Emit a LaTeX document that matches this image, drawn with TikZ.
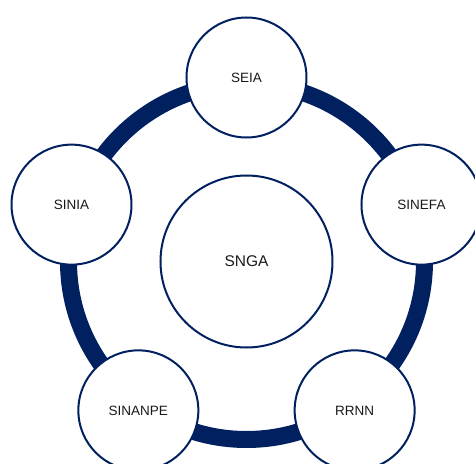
\documentclass[tikz,border=0pt]{standalone}
\usepackage{fontspec}
\setmainfont{Liberation Sans}
\usepackage{xcolor}
\definecolor{navy}{HTML}{002060}

\tikzset{
    sub/.style={circle,draw=navy,line width=2pt,fill=white,inner sep=0pt,
        minimum size=120pt,text=black!90,font=\fontsize{13.5}{16}\selectfont},
    core/.style={sub,minimum size=172pt,font=\fontsize{15.5}{18}\selectfont}
}

\begin{document}
\begin{tikzpicture}[x=1pt,y=1pt]
    \useasboundingbox (-246.5,-202.5) rectangle (228.5,261.5);
    \clip (-246.5,-202.5) rectangle (228.5,261.5);
    \draw[navy,line width=17pt] (0,0) circle (178);
    \node[core] (snga) at (0,0) {SNGA};
    \node[sub] (seia) at (90:184) {SEIA};
    \node[sub] (sinefa) at (18:184) {SINEFA};
    \node[sub] (rrnn) at (306:184) {RRNN};
    \node[sub] (sinanpe) at (234:184) {SINANPE};
    \node[sub] (sinia) at (162:184) {SINIA};
\end{tikzpicture}
\end{document}
